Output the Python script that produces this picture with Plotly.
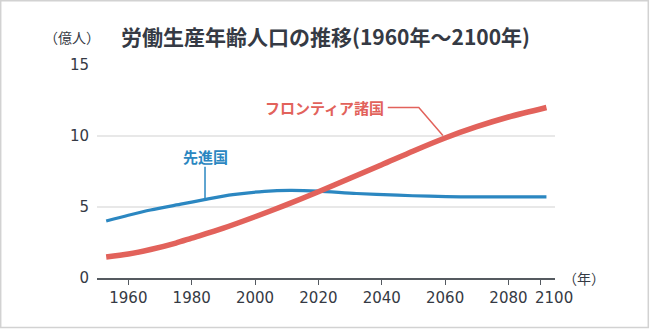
import plotly.graph_objects as go

# 先進国 (developed countries), hundred-millions of people
dev_years = [1953, 1960, 1967, 1977, 1984, 1993, 2003, 2011, 2020, 2032, 2045, 2055, 2065, 2080, 2092]
dev_values = [4.0, 4.4, 4.77, 5.2, 5.5, 5.85, 6.08, 6.15, 6.1, 5.93, 5.81, 5.74, 5.7, 5.69, 5.7]

# フロンティア諸国 (frontier countries)
fr_years = [1953, 1960, 1967, 1975, 1980, 1990, 2000, 2010, 2020, 2030, 2040, 2050, 2060, 2070, 2080, 2092]
fr_values = [1.47, 1.68, 2.0, 2.45, 2.8, 3.5, 4.3, 5.15, 6.05, 7.0, 7.95, 8.92, 9.83, 10.62, 11.3, 11.97]

x_ticks = [1960, 1980, 2000, 2020, 2040, 2060, 2080, 2090]
x_ticktext = ["1960", "1980", "2000", "2020", "2040", "2060", "2080", ""]
y_ticks = [0, 5, 10, 15]

title_text = "労働生産年齢人口の推移(1960年〜2100年)"
unit_y = "（億人）"
unit_x = "（年）"
last_year_label = "2100"

RED = "#e2625b"
BLUE = "#2b87c1"
TEXT = "#353a44"
CJK = "Noto Sans CJK JP"

W, H = 650, 329
L, R, T, B = 97, 95, 64, 51
PW, PH = W - L - R, H - T - B


def px(x):
    return (x - L) / PW


def py(y):
    return (H - B - y) / PH


fig = go.Figure()
fig.add_trace(go.Scatter(x=dev_years, y=dev_values, mode="lines",
                         line=dict(color=BLUE, width=3.2, shape="spline", smoothing=0.8),
                         hoverinfo="skip"))
fig.add_trace(go.Scatter(x=fr_years, y=fr_values, mode="lines",
                         line=dict(color=RED, width=5.5, shape="spline", smoothing=0.8),
                         hoverinfo="skip"))

shapes = [
    # outer frame
    dict(type="rect", xref="paper", yref="paper",
         x0=px(0.7), x1=px(648.3), y0=py(327.6), y1=py(0.7),
         line=dict(color="#d2d2d2", width=1.5), layer="below"),
    # callout for 先進国
    dict(type="line", xref="x", yref="y", x0=1984.2, x1=1984.2, y0=5.55, y1=7.8,
         line=dict(color=BLUE, width=1.5)),
    # callout for フロンティア諸国
    dict(type="path", xref="x", yref="y",
         path="M 2041.9,11.97 L 2051.7,11.97 L 2059.3,10.0",
         line=dict(color=RED, width=1.5)),
]

annotations = [
    dict(text=title_text, xref="paper", yref="paper", x=px(119), y=py(36),
         xanchor="left", yanchor="middle", showarrow=False,
         font=dict(family=CJK, size=21, color=TEXT, weight=700)),
    dict(text=unit_y, xref="paper", yref="paper", x=px(72), y=py(37),
         xanchor="center", yanchor="middle", showarrow=False,
         font=dict(family=CJK, size=14, color=TEXT)),
    dict(text=unit_x, xref="paper", yref="paper", x=px(583.5), y=py(277.5),
         xanchor="center", yanchor="middle", showarrow=False,
         font=dict(family=CJK, size=14, color=TEXT)),
    dict(text=last_year_label, xref="paper", yref="paper", x=px(554), y=py(297.7),
         xanchor="center", yanchor="middle", showarrow=False,
         font=dict(family="DejaVu Sans", size=15, color=TEXT)),
    dict(text="先進国", xref="paper", yref="paper", x=px(205), y=py(156),
         xanchor="center", yanchor="middle", showarrow=False,
         font=dict(family=CJK, size=15, color=BLUE, weight=700)),
    dict(text="フロンティア諸国", xref="paper", yref="paper", x=px(263), y=py(107.5),
         xanchor="left", yanchor="middle", showarrow=False,
         font=dict(family=CJK, size=15, color=RED, weight=700)),
]

fig.update_layout(
    width=W, height=H,
    margin=dict(l=L, r=R, t=T, b=B, pad=0),
    paper_bgcolor="white", plot_bgcolor="white",
    showlegend=False,
    shapes=shapes, annotations=annotations,
    xaxis=dict(range=[1950.1, 2094.7], tickvals=x_ticks, ticktext=x_ticktext,
               showgrid=False, zeroline=False, showline=True,
               linecolor="#555a60", linewidth=1.6,
               ticks="outside", ticklen=5, tickwidth=1.2, tickcolor="#555a60",
               tickfont=dict(family="DejaVu Sans", size=15, color=TEXT),
               fixedrange=True),
    yaxis=dict(range=[0, 15.02], tickvals=y_ticks,
               showgrid=True, gridcolor="#e8e8e8", gridwidth=1.5,
               zeroline=False, showline=False,
               ticks="", ticklabelstandoff=7,
               tickfont=dict(family="DejaVu Sans", size=15, color=TEXT),
               fixedrange=True),
)

fig.write_html("out.html", config=dict(displayModeBar=False))
